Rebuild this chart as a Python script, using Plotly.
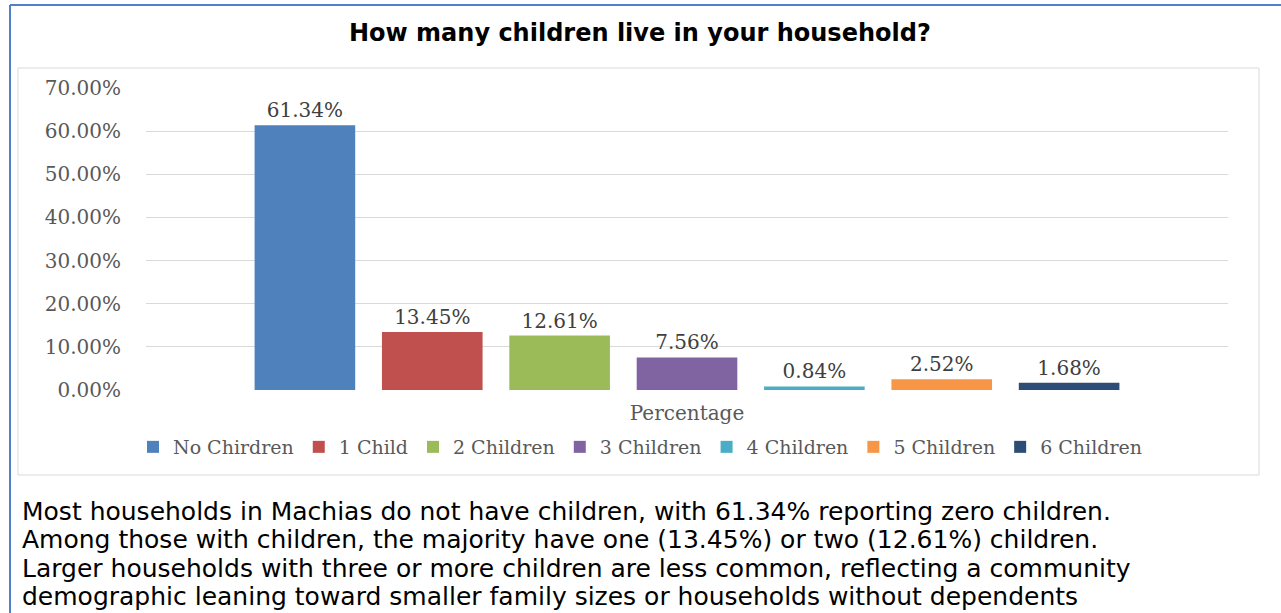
import plotly.graph_objects as go

# Survey results: share of households by number of children
categories = ["No Chirdren", "1 Child", "2 Children", "3 Children",
              "4 Children", "5 Children", "6 Children"]
values = [61.34, 13.45, 12.61, 7.56, 0.84, 2.52, 1.68]
colors = ["#4F81BD", "#C0504D", "#9BBB59", "#8064A2",
          "#4BACC6", "#F79646", "#2C4D75"]
tick_vals = [0, 10, 20, 30, 40, 50, 60, 70]
tick_text = ["0.00%", "10.00%", "20.00%", "30.00%", "40.00%",
             "50.00%", "60.00%", "70.00%"]
x_label = "Percentage"
title_text = "How many children live in your household?"
summary_lines = [
    "Most households in Machias do not have children, with 61.34% reporting zero children.",
    "Among those with children, the majority have one (13.45%) or two (12.61%) children.",
    "Larger households with three or more children are less common, reflecting a community",
    "demographic leaning toward smaller family sizes or households without dependents",
]

W, H = 1281, 613
L, R, T, B = 146, 1228, 88, 390  # plot area in pixels


def px(x):
    return (x - L) / (R - L)


def py(y):
    return (B - y) / (B - T)


SERIF = "DejaVu Serif"
SANS = "DejaVu Sans"

fig = go.Figure()
for name, val, col in zip(categories, values, colors):
    fig.add_trace(go.Bar(
        x=[x_label], y=[val], name=name,
        marker=dict(color=col, line=dict(width=0)),
        text=[f"{val:.2f}%"], textposition="outside",
        textfont=dict(family=SERIF, size=20, color="#404040"),
        cliponaxis=False,
    ))

shapes = [
    # outer frame (top and left edges)
    dict(type="line", xref="paper", yref="paper", x0=px(10), x1=px(1290),
         y0=py(5), y1=py(5), line=dict(color="#4F81C8", width=2)),
    dict(type="line", xref="paper", yref="paper", x0=px(10), x1=px(10),
         y0=py(5), y1=py(620), line=dict(color="#4F81C8", width=2)),
    # chart box
    dict(type="rect", xref="paper", yref="paper", x0=px(18), x1=px(1259),
         y0=py(68), y1=py(475), line=dict(color="#D9D9D9", width=1),
         layer="below"),
]

annotations = [
    dict(text=f"<b>{title_text}</b>", xref="paper", yref="paper",
         x=px(640), y=py(33), xanchor="center", yanchor="middle",
         showarrow=False, font=dict(family=SANS, size=24, color="#000000")),
]
for i, line in enumerate(summary_lines):
    annotations.append(dict(
        text=line, xref="paper", yref="paper", x=px(20), y=py(511 + i * 28.5),
        xanchor="left", yanchor="middle", showarrow=False,
        font=dict(family=SANS, size=25, color="#000000")))

fig.update_layout(
    width=W, height=H,
    margin=dict(l=L, r=W - R, t=T, b=H - B, pad=0),
    paper_bgcolor="white", plot_bgcolor="white",
    barmode="group", bargap=0.176, bargroupgap=0.21,
    showlegend=True,
    legend=dict(orientation="h", x=px(640), y=py(447), xanchor="center",
                yanchor="middle", font=dict(family=SERIF, size=19, color="#595959"),
                itemclick=False, bgcolor="rgba(0,0,0,0)"),
    xaxis=dict(type="category", showgrid=False, zeroline=False, showline=False,
               ticks="outside", ticklen=5, tickcolor="rgba(0,0,0,0)",
               tickfont=dict(family=SERIF, size=20, color="#595959")),
    yaxis=dict(range=[0, 70], tickvals=tick_vals, ticktext=tick_text,
               showgrid=True, gridcolor="#D9D9D9", gridwidth=1, zeroline=False,
               showline=False, ticks="outside", ticklen=20,
               tickcolor="rgba(0,0,0,0)",
               tickfont=dict(family=SERIF, size=20, color="#595959")),
    shapes=shapes, annotations=annotations,
)

fig.write_html("out.html")
